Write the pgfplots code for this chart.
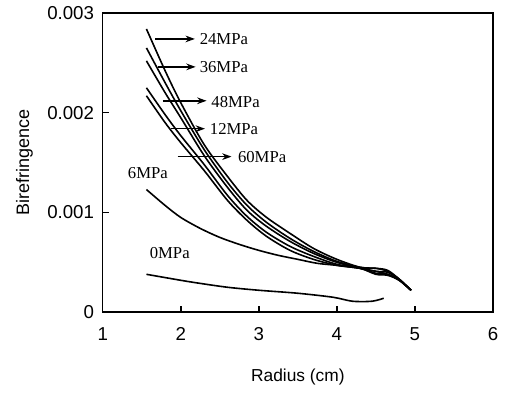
\documentclass[border=0pt]{standalone}
\usepackage{pgfplots}
\pgfplotsset{compat=1.18}
\usepackage{fontspec}
\setmainfont{Liberation Sans}
\newfontfamily\tnr{Liberation Serif}
\usetikzlibrary{calc,arrows.meta}
\begin{document}
\begin{tikzpicture}
\begin{axis}[
  scale only axis,
  width=292.5pt, height=224.25pt,
  xmin=1, xmax=6, ymin=0, ymax=0.003,
  axis line style={line width=1.1pt},
  xtick={1,2,3,4,5,6},
  ytick={0,0.001,0.002,0.003},
  major tick length=5pt,
  tick style={line width=1.1pt, black},
  tick align=inside,
  xtick pos=bottom, ytick pos=left,
  scaled y ticks=false,
  yticklabel style={/pgf/number format/fixed,/pgf/number format/precision=3, font=\fontsize{14}{16}\selectfont, xshift=-3pt},
  xticklabel style={font=\fontsize{14}{16}\selectfont, yshift=-8pt},
  /pgf/number format/assume math mode=true,
  xlabel={Radius (cm)},
  ylabel={Birefringence},
  xlabel style={font=\fontsize{13}{15}\selectfont, yshift=-14pt},
  ylabel style={font=\fontsize{13.5}{15}\selectfont, yshift=4pt},
  cycle list={{black,solid,mark=none}},
  every axis plot/.append style={line width=1.2pt, smooth, tension=0.5},
  clip=false,
]
% 24MPa
\addplot coordinates {(1.56,0.00284)(1.8,0.00242)(2.0,0.00210)(2.3,0.00168)(2.6,0.00136)(2.85,0.00112)(3.1,0.00095)(3.4,0.00079)(3.7,0.00064)(4.0,0.00053)(4.3,0.00045)(4.5,0.00044)(4.65,0.00041)(4.8,0.00033)(4.95,0.00022)};
% 36MPa
\addplot coordinates {(1.56,0.00265)(1.8,0.00230)(2.0,0.00202)(2.3,0.00163)(2.6,0.00130)(2.85,0.00107)(3.1,0.00090)(3.4,0.00074)(3.7,0.00061)(4.0,0.00051)(4.3,0.00045)(4.5,0.00044)(4.65,0.00042)(4.8,0.00033)(4.95,0.00022)};
% 48MPa
\addplot coordinates {(1.56,0.00252)(1.8,0.00220)(2.0,0.00195)(2.3,0.00157)(2.6,0.00125)(2.85,0.00102)(3.1,0.00086)(3.4,0.00071)(3.7,0.00059)(4.0,0.00050)(4.3,0.00044)(4.5,0.00041)(4.65,0.00040)(4.8,0.00033)(4.95,0.00022)};
% 12MPa
\addplot coordinates {(1.56,0.00225)(1.8,0.00198)(2.0,0.00177)(2.3,0.00148)(2.6,0.00117)(2.85,0.00096)(3.1,0.00080)(3.4,0.00066)(3.7,0.00056)(4.0,0.00048)(4.3,0.00044)(4.5,0.00038)(4.65,0.00037)(4.8,0.00032)(4.95,0.00022)};
% 60MPa
\addplot coordinates {(1.56,0.00217)(1.8,0.00190)(2.0,0.00170)(2.3,0.00142)(2.6,0.00112)(2.85,0.00092)(3.1,0.00076)(3.4,0.00062)(3.7,0.00053)(4.0,0.00047)(4.3,0.00044)(4.5,0.00039)(4.65,0.00038)(4.8,0.00032)(4.95,0.00022)};
% 6MPa
\addplot coordinates {(1.56,0.00123)(1.8,0.00107)(2.0,0.00095)(2.25,0.00084)(2.5,0.00075)(2.75,0.00068)(3.0,0.00062)(3.25,0.00057)(3.5,0.00053)(3.75,0.00049)(4.0,0.00047)(4.3,0.00044)(4.5,0.00041)(4.65,0.00038)(4.8,0.00032)(4.95,0.00022)};
% 0MPa
\addplot coordinates {(1.56,0.00038)(2.0,0.00032)(2.24,0.00029)(2.6,0.00025)(3.0,0.00022)(3.5,0.00019)(3.95,0.00015)(4.2,0.00011)(4.45,0.00011)(4.6,0.00014)};

\begin{scope}[line width=1.1pt, -{Stealth[length=7pt,width=5pt]}]
\draw (axis cs:1.67,0.00274) -- (axis cs:2.18,0.00274);
\draw (axis cs:1.71,0.00246) -- (axis cs:2.19,0.00246);
\draw (axis cs:1.77,0.00212) -- (axis cs:2.33,0.00212);
\draw (axis cs:1.88,0.00184) -- (axis cs:2.31,0.00184);
\draw (axis cs:1.96,0.00156) -- (axis cs:2.65,0.00156);
\end{scope}
\begin{scope}[every node/.style={anchor=west, inner sep=0pt, font=\tnr\fontsize{12.5}{14}\selectfont}]
\node at (axis cs:2.24,0.00274) {24MPa};
\node at (axis cs:2.24,0.00246) {36MPa};
\node at (axis cs:2.39,0.00211) {48MPa};
\node at (axis cs:2.37,0.00184) {12MPa};
\node at (axis cs:2.73,0.00156) {60MPa};
\node at (axis cs:1.32,0.00140) {6MPa};
\node at (axis cs:1.60,0.00059) {0MPa};
\end{scope}
\end{axis}
\pgfresetboundingbox
\path[use as bounding box] ($(current axis.south west)+(-77pt,-66pt)$) rectangle ($(current axis.north east)+(10.5pt,9.75pt)$);
\end{tikzpicture}
\end{document}
